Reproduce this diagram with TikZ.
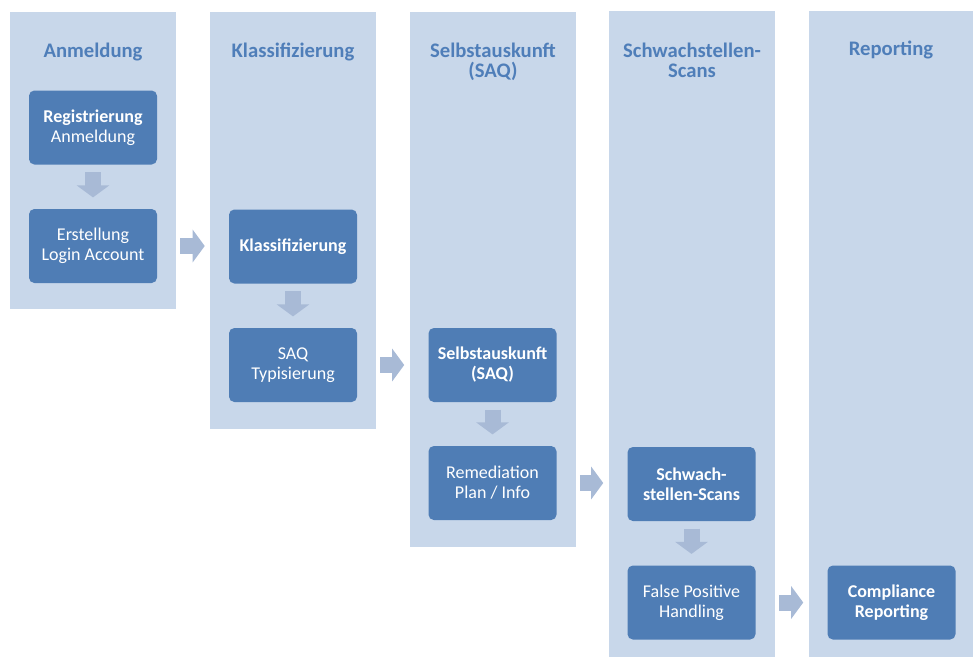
\documentclass[tikz,border=0pt]{standalone}
\usepackage{fontspec,tikz,xcolor}
\setmainfont{Carlito}
\usetikzlibrary{arrows.meta}
\definecolor{colbg}{RGB}{200,215,234}
\definecolor{boxbg}{RGB}{79,125,181}
\definecolor{flowcol}{RGB}{168,186,214}
\definecolor{headcol}{RGB}{79,126,185}
\begin{document}
\begin{tikzpicture}[x=0.75pt,y=-0.75pt,
    column/.style={fill=colbg,anchor=north west,inner sep=0pt,minimum width=124.5pt},
    head/.style={text=headcol,font=\fontsize{15.5}{15}\selectfont\bfseries,align=center},
    stepbox/.style={fill=boxbg,rounded corners=4pt,text=white,minimum width=96pt,minimum height=55.5pt,inner sep=0pt,align=center,font=\fontsize{13.5}{15}\selectfont},
    flow/.style={draw=flowcol,line width=12pt,-{Triangle[width=24pt,length=9pt]}},
    downflow/.style={flow,shorten <=5.5pt,shorten >=8.5pt},
    rightflow/.style={flow,shorten <=17.25pt,shorten >=18pt}]
                \useasboundingbox (0,0) rectangle (973,657);
                \node[column,minimum height=222.75pt] (c1) at (10,12) {};
                \node[column,minimum height=312.75pt] (c2) at (210,12) {};
                \node[column,minimum height=401.25pt] (c3) at (410,12) {};
                \node[column,minimum height=484.5pt] (c4) at (609,11) {};
                \node[column,minimum height=484.5pt,minimum width=123pt] (c5) at (809,11) {};
                \node[head] (t1) at (93,52) {Anmeldung};
                \node[head] (t2) at (293,52) {Klassifizierung};
                \node[head] (t3) at (493,62) {Selbstauskunft\\(SAQ)};
                \node[head] (t4) at (692,60) {Schwachstellen-\\Scans};
                \node[head] (t5) at (891,50) {Reporting};
                \node[stepbox] (reg) at (93,127.5) {\textbf{Registrierung}\\Anmeldung};
                \node[stepbox] (erst) at (93,246) {Erstellung\\Login Account};
                \node[stepbox] (klass) at (293,246.5) {\textbf{Klassifizierung}};
                \node[stepbox] (saq) at (293,365) {SAQ\\Typisierung};
                \node[stepbox] (selbst) at (492.5,365) {\textbf{Selbstauskunft}\\\textbf{(SAQ)}};
                \node[stepbox] (remed) at (492.5,483) {Remediation\\Plan / Info};
                \node[stepbox] (scan) at (691.5,484) {\textbf{Schwach-}\\\textbf{stellen-Scans}};
                \node[stepbox] (fp) at (691.5,602.5) {False Positive\\Handling};
                \node[stepbox] (comp) at (891.5,602.5) {\textbf{Compliance}\\\textbf{Reporting}};
                \draw[downflow] (reg) -- (erst);
                \draw[downflow] (klass) -- (saq);
                \draw[downflow] (selbst) -- (remed);
                \draw[downflow] (scan) -- (fp);
                \draw[rightflow] (erst.east) -- (erst.east -| klass.west);
                \draw[rightflow] (saq.east) -- (saq.east -| selbst.west);
                \draw[rightflow] (remed.east) -- (remed.east -| scan.west);
                \draw[rightflow] (fp.east) -- (fp.east -| comp.west);
\end{tikzpicture}
\end{document}
